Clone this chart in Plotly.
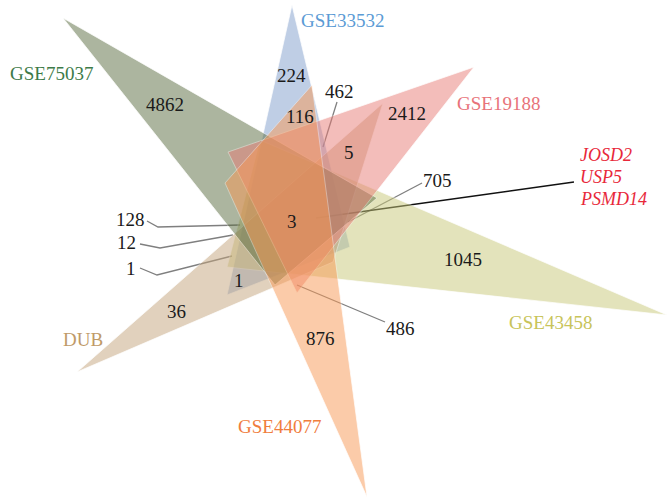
import plotly.graph_objects as go

# Six datasets drawn as overlapping triangles (listed in drawing order)
set_names = ["GSE33532", "GSE43458", "DUB", "GSE75037", "GSE19188", "GSE44077"]
set_fill = ["#819fcd", "#c9c979", "#c5a57d", "#5b6d41", "#e97d77", "#f99955"]
set_label_color = ["#5b9bd5", "#c8c45a", "#c09a68", "#3d7a48", "#e8737a", "#f07d3d"]

# Triangle corners (pixel space, y down): tip first, then the two inner corners
triangles = [
    [(292, 5), (350, 247), (227, 295)],    # GSE33532
    [(667, 315), (260, 140), (227, 267)],  # GSE43458
    [(77, 372), (383, 103), (333, 262)],   # DUB
    [(63, 18), (377, 198), (275, 285)],    # GSE75037
    [(474, 67), (228, 152), (297, 293)],   # GSE19188
    [(367, 497), (312, 85), (225, 183)],   # GSE44077
]
set_label_pos = [(342, 20), (550, 322), (83, 339), (51, 73), (498, 103), (279, 426)]

# Region counts and where they sit
region_counts = [4862, 224, 116, 462, 2412, 5, 705, 3, 1045, 486, 876, 36, 1, 1, 12, 128]
region_pos = [(165, 104), (291, 75), (300, 116), (339, 91), (407, 113), (349, 152),
              (437, 180), (292, 221), (463, 259), (400, 328), (320, 338), (176, 311),
              (239, 280), (131, 268), (126, 242), (130, 219)]

# Leader lines for small regions: (count index, polyline)
leaders = [
    (3, [(337, 102), (323, 147)]),
    (6, [(422, 183), (348, 222)]),
    (9, [(385, 322), (297, 285)]),
    (15, [(147, 221), (158, 227), (240, 225)]),
    (14, [(140, 244), (160, 248), (233, 235)]),
    (13, [(140, 268), (157, 275), (232, 256)]),
]

# Genes shared by all six sets
hub_genes = ["JOSD2", "USP5", "PSMD14"]
hub_pos = [(578, 155), (578, 177), (578, 199)]

fig = go.Figure()
shapes = []
for tri, col in zip(triangles, set_fill):
    path = "M {} {} L {} {} L {} {} Z".format(*[c for p in tri for c in p])
    shapes.append(dict(type="path", path=path, xref="x", yref="y",
                       fillcolor=col, opacity=0.5,
                       line=dict(color="rgba(255,255,255,0.9)", width=0.8)))

for idx, pts in leaders:
    xs = [p[0] for p in pts]
    ys = [p[1] for p in pts]
    fig.add_trace(go.Scatter(x=xs, y=ys, mode="lines",
                             line=dict(color="#7f7f7f", width=1.3),
                             hoverinfo="skip", showlegend=False))

# pointer from the centre region to the gene list
fig.add_trace(go.Scatter(x=[316, 574], y=[218, 182], mode="lines",
                         line=dict(color="#111111", width=1.4),
                         hoverinfo="skip", showlegend=False))

annotations = []
serif = "Liberation Serif, Times New Roman, serif"
for name, pos, col in zip(set_names, set_label_pos, set_label_color):
    annotations.append(dict(x=pos[0], y=pos[1], text=name, showarrow=False,
                            font=dict(family=serif, size=19, color=col)))
for val, pos in zip(region_counts, region_pos):
    annotations.append(dict(x=pos[0], y=pos[1], text=str(val), showarrow=False,
                            font=dict(family=serif, size=19, color="#1a1a1a")))
for g, pos in zip(hub_genes, hub_pos):
    annotations.append(dict(x=pos[0], y=pos[1], text="<i>" + g + "</i>", showarrow=False,
                            xanchor="left",
                            font=dict(family=serif, size=18, color="#e8283a")))

fig.update_layout(
    width=667, height=500,
    margin=dict(l=0, r=0, t=0, b=0),
    paper_bgcolor="white", plot_bgcolor="white",
    shapes=shapes, annotations=annotations,
    xaxis=dict(range=[0, 667], visible=False, fixedrange=True),
    yaxis=dict(range=[500, 0], visible=False, fixedrange=True),
    showlegend=False,
)
fig.write_html("out.html")
